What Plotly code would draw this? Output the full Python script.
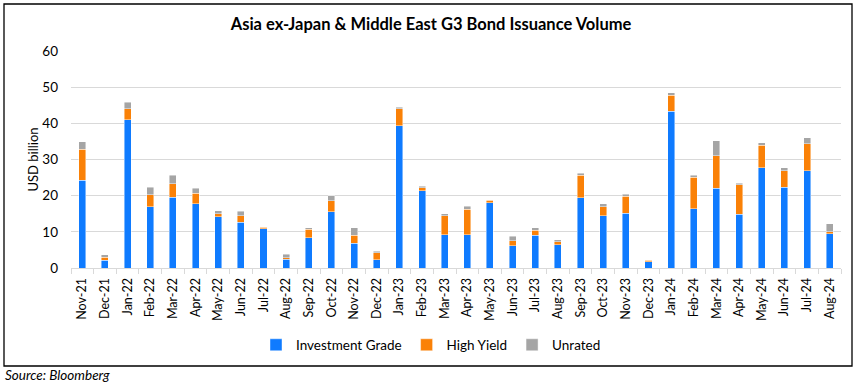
import plotly.graph_objects as go

months = ["Nov-21","Dec-21","Jan-22","Feb-22","Mar-22","Apr-22","May-22","Jun-22","Jul-22","Aug-22",
          "Sep-22","Oct-22","Nov-22","Dec-22","Jan-23","Feb-23","Mar-23","Apr-23","May-23","Jun-23",
          "Jul-23","Aug-23","Sep-23","Oct-23","Nov-23","Dec-23","Jan-24","Feb-24","Mar-24","Apr-24",
          "May-24","Jun-24","Jul-24","Aug-24"]
investment_grade = [24.2,2.1,41.0,17.0,19.6,17.8,14.2,12.6,10.8,2.4,
                    8.4,15.6,6.8,2.3,39.4,21.4,9.2,9.2,18.0,6.2,
                    9.1,6.4,19.4,14.5,15.2,1.75,43.3,16.4,22.0,14.8,
                    27.7,22.3,26.9,9.5]
high_yield = [8.7,0.9,3.0,3.3,3.7,2.9,0.85,1.9,0.5,0.5,
              2.3,3.0,2.3,1.9,4.6,0.85,5.3,7.0,0.8,1.4,
              1.4,0.9,6.2,2.5,4.6,0.35,4.4,8.7,9.0,8.2,
              6.2,4.6,7.5,0.5]
unrated = [2.0,0.6,1.8,2.0,2.4,1.3,0.75,1.2,0.1,0.9,
           0.4,1.4,2.0,0.4,0.4,0.3,0.5,0.9,0.1,1.2,
           0.6,0.5,0.6,0.8,0.6,0.2,0.8,0.5,4.2,0.5,
           0.7,0.8,1.6,2.2]
y_ticks = [0,10,20,30,40,50,60]

FONT = "Lato"
W, H = 855, 384
L, R, T, B = 71, 14, 51, 116
pw, ph = W - L - R, H - T - B

def px(x): return (x - L) / pw
def py(y): return (H - B - y) / ph

line = dict(color="rgba(255,255,255,0.55)", width=0.8)
fig = go.Figure()
fig.add_bar(x=months, y=investment_grade, name="Investment Grade", marker=dict(color="#0F7BFF", line=line))
fig.add_bar(x=months, y=high_yield, name="High Yield", marker=dict(color="#FA8107", line=line))
fig.add_bar(x=months, y=unrated, name="Unrated", marker=dict(color="#A5A5A5", line=line))

fig.update_layout(
    width=W, height=H, barmode="stack", bargap=0.69,
    margin=dict(l=L, r=R, t=T, b=B, autoexpand=False),
    plot_bgcolor="white", paper_bgcolor="white",
    font=dict(family=FONT, color="#404040"),
    title=dict(text="<b>Asia ex-Japan & Middle East G3 Bond Issuance Volume</b>",
               x=px(431), xanchor="center", xref="paper", y=1 - 24/H, yanchor="middle",
               font=dict(family=FONT, size=16.5, color="#000000")),
    legend=dict(orientation="h", x=px(431), xanchor="center", xref="paper",
                y=py(345), yanchor="middle", font=dict(size=13.5, color="#000000"),
                itemwidth=30, traceorder="normal", itemclick=False,
                tracegroupgap=0),
    showlegend=True,
)
fig.update_xaxes(type="category", tickangle=-90, tickfont=dict(size=12.5, color="#000000"),
                 ticks="outside", tickson="boundaries", ticklen=5, tickcolor="#D9D9D9",
                 ticklabelstandoff=4,
                 showline=True, linecolor="#D9D9D9", linewidth=1, showgrid=False)
fig.update_yaxes(range=[0, 60], tickvals=y_ticks, tickfont=dict(size=13.5, color="#000000"),
                 showgrid=True, gridcolor="#D9D9D9", gridwidth=1, zeroline=False,
                 showline=False, ticks="", ticklabelstandoff=12,
                 title=dict(text="USD billion", font=dict(size=13, color="#000000"), standoff=0))

fig.add_shape(type="rect", xref="paper", yref="paper",
              x0=px(4), x1=px(852), y0=py(366), y1=py(4),
              line=dict(color="#000000", width=1.3), fillcolor="rgba(0,0,0,0)", layer="below")
fig.add_annotation(text="<i>Source: Bloomberg</i>", xref="paper", yref="paper",
                   x=px(3), y=py(375), xanchor="left", yanchor="middle", showarrow=False,
                   font=dict(family=FONT, size=13.5, color="#000000"))

fig.write_html("out.html", config={"displayModeBar": False},
               post_script="document.body.style.margin='0';document.body.style.overflow='hidden';")
